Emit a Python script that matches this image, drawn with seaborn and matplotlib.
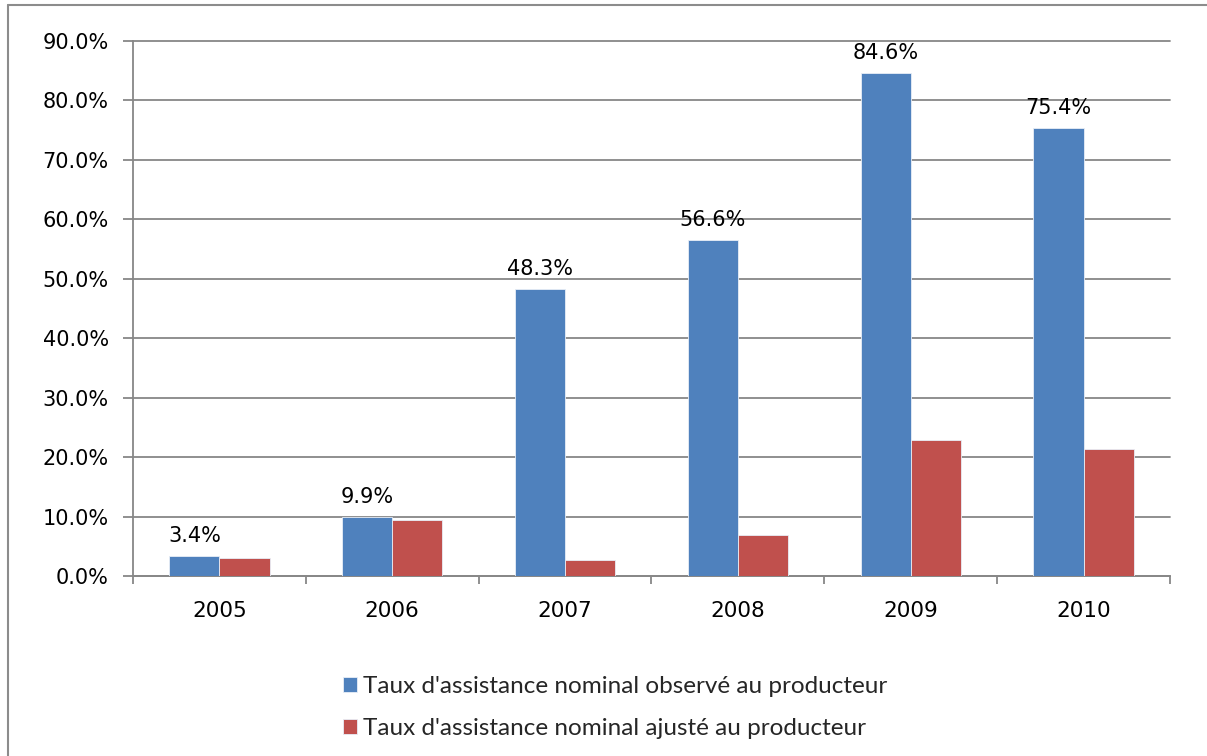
import matplotlib
matplotlib.use("Agg")
import matplotlib.pyplot as plt
import seaborn as sns
import pandas as pd
from matplotlib.lines import Line2D
from matplotlib.ticker import FixedLocator, FuncFormatter

# Data
years = ["2005", "2006", "2007", "2008", "2009", "2010"]
observed = [3.4, 9.9, 48.3, 56.6, 84.6, 75.4]
adjusted = [3.0, 9.5, 2.7, 6.9, 22.9, 21.4]
series_names = [
    "Taux d'assistance nominal observé au producteur",
    "Taux d'assistance nominal ajusté au producteur",
]
colors = ["#4F81BD", "#C0504D"]

df = pd.DataFrame({
    "Année": years * 2,
    "Taux": observed + adjusted,
    "Série": [series_names[0]] * len(years) + [series_names[1]] * len(years),
})

sns.set_theme(style="white")
plt.rcParams["font.family"] = ["DejaVu Sans"]

W, H = 1207, 756
fig = plt.figure(figsize=(W / 100, H / 100), dpi=100)
ax = fig.add_axes([133 / W, 1 - 576 / H, (1170 - 133) / W, (576 - 41) / H])

sns.barplot(data=df, x="Année", y="Taux", hue="Série", palette=colors,
            width=0.58, saturation=1, edgecolor="#e8eef7", linewidth=0.6,
            ax=ax, zorder=3)

grey = "#878787"
ax.set_xlim(-0.5, len(years) - 0.5)
ax.set_ylim(0, 90)
ax.yaxis.set_major_locator(FixedLocator(range(0, 91, 10)))
ax.yaxis.set_major_formatter(FuncFormatter(lambda v, p: f"{v:.1f}%"))
ax.grid(axis="y", color=grey, lw=1.3, zorder=0)
for gl in ax.get_ygridlines():
    gl.set_clip_on(False)
ax.set_axisbelow(True)

for side in ["top", "right"]:
    ax.spines[side].set_visible(False)
for side in ["left", "bottom"]:
    ax.spines[side].set_color(grey)
    ax.spines[side].set_linewidth(1.3)

ax.set_xlabel("")
ax.set_ylabel("")
ax.tick_params(axis="y", which="major", direction="out", length=7.5, width=1.3,
               color=grey, pad=10, labelsize=15, labelcolor="black", left=True)
ax.xaxis.set_minor_locator(FixedLocator([i - 0.5 for i in range(len(years) + 1)]))
ax.tick_params(axis="x", which="minor", direction="out", length=6, width=1.3,
               color=grey, bottom=True)
ax.tick_params(axis="x", which="major", length=0, pad=18, labelsize=15.5,
               labelcolor="black")

# Value labels on the observed series
ax.bar_label(ax.containers[0], labels=[f"{v:.1f}%" for v in observed],
             padding=7, fontsize=15, color="black")

# Legend below the plot
handles, labels = ax.get_legend_handles_labels()
ax.get_legend().remove()
fig.legend(handles, labels, loc="upper left",
           bbox_to_anchor=(333 / W, 1 - 666 / H), frameon=False,
           prop={"family": "Lato", "size": 17.5},
           handlelength=0.58, handleheight=0.58, handletextpad=0.25,
           labelspacing=0.87, borderaxespad=0)

# Outer chart frame (left and top edges)
frame_kw = dict(transform=fig.transFigure, color="#8c8c8c", lw=1.5)
fig.lines.append(Line2D([8 / W, 8 / W], [0, 1 - 5 / H], **frame_kw))
fig.lines.append(Line2D([8 / W, 1], [1 - 5 / H, 1 - 5 / H], **frame_kw))

fig.savefig("out.png", dpi=100)
